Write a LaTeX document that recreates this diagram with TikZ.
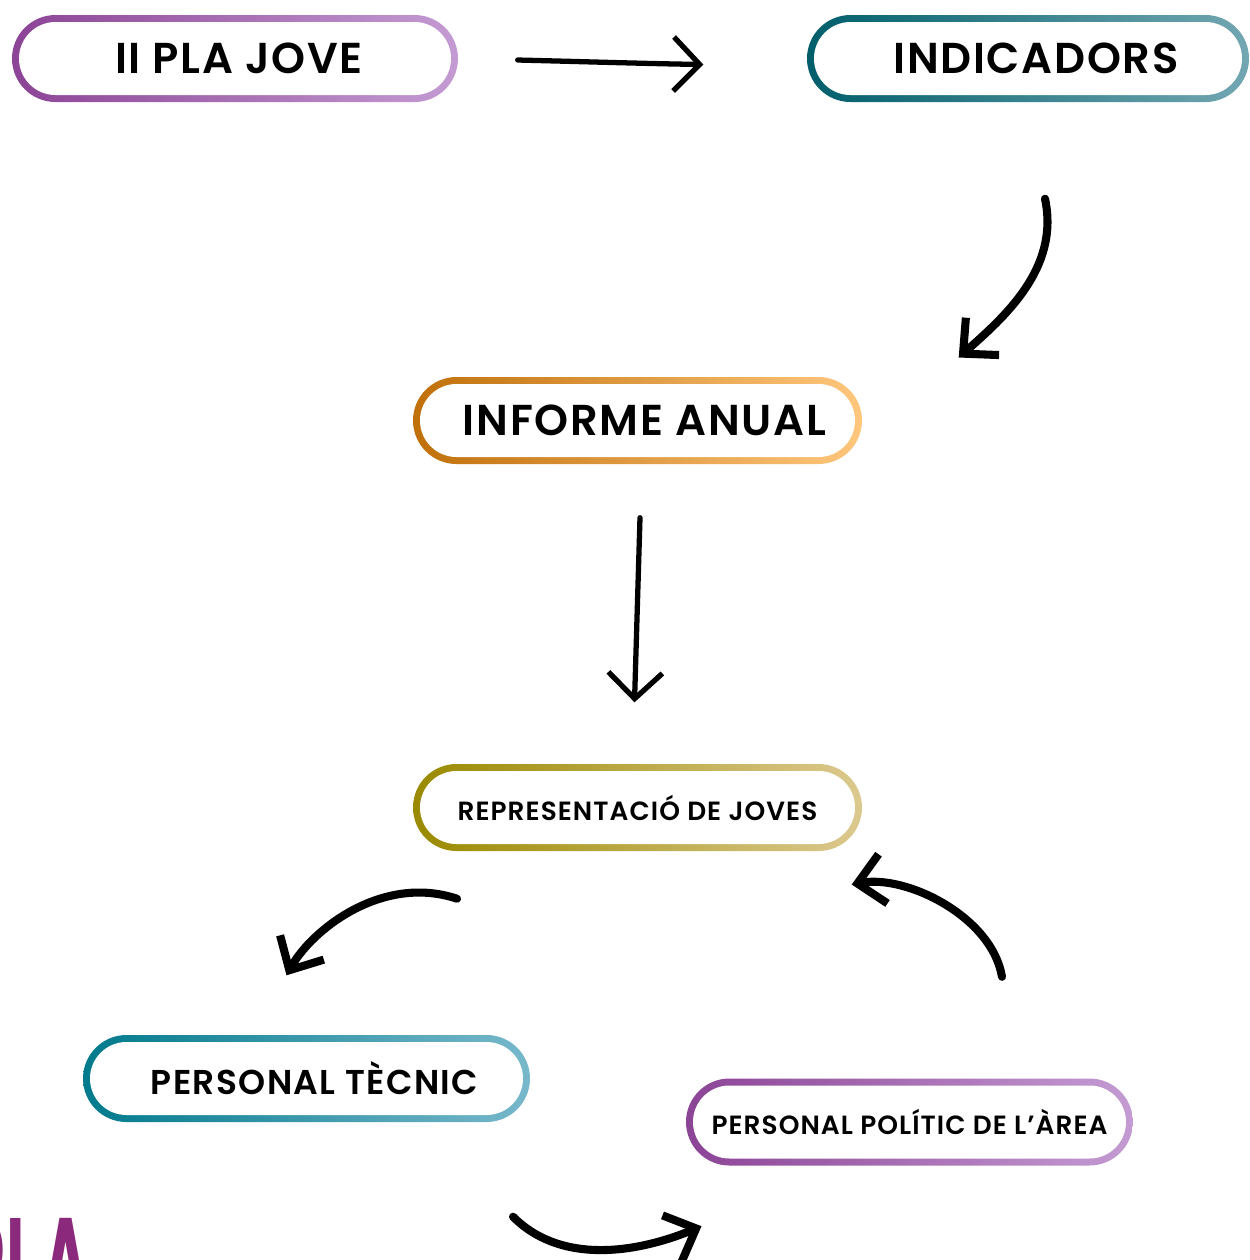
\documentclass[tikz,border=0pt]{standalone}
\usepackage{fontspec}
\setmainfont{Poppins}[BoldFont={Poppins SemiBold}]
\usetikzlibrary{arrows.meta,positioning,shapes.misc,calc}

\definecolor{plaL}{HTML}{8C4496}
\definecolor{plaM}{HTML}{B075BD}
\definecolor{plaR}{HTML}{C49BD3}
\definecolor{indL}{HTML}{005F6B}
\definecolor{indM}{HTML}{4A8A92}
\definecolor{indR}{HTML}{72A7B2}
\definecolor{infL}{HTML}{C0700A}
\definecolor{infM}{HTML}{F5A000}
\definecolor{infR}{HTML}{FFC77D}
\definecolor{repL}{HTML}{9A8A00}
\definecolor{repM}{HTML}{D6B500}
\definecolor{repR}{HTML}{DCC98F}
\definecolor{tecL}{HTML}{007A8C}
\definecolor{tecM}{HTML}{2A9AAF}
\definecolor{tecR}{HTML}{78B8CB}
\definecolor{plamark}{HTML}{8B2A7D}

\begin{document}
\begin{tikzpicture}[
  ring/.style={rounded rectangle, inner sep=0pt, minimum height=8.7mm},
  pill/.style={rounded rectangle, fill=white, inner sep=0pt, minimum height=7.3mm},
  big/.style={font=\bfseries\fontsize{12.3}{14}\selectfont\addfontfeatures{LetterSpace=4}},
  mid/.style={font=\bfseries\fontsize{9.8}{12}\selectfont\addfontfeatures{LetterSpace=4}},
  small/.style={font=\bfseries\fontsize{7.5}{9}\selectfont\addfontfeatures{LetterSpace=4}},
  hand/.style={line width=1.5pt, line cap=round, -{Straight Barb[length=2.6mm, width=5.4mm]}},
  thickhand/.style={line width=2.3pt, line cap=round, -{Straight Barb[length=2.6mm, width=5mm]}}
]
\useasboundingbox (0,0) rectangle (12.5,-12.6);
\clip (0,0) rectangle (12.5,-12.6);

% boxes
\node[ring, minimum width=44.6mm, left color=plaL, middle color=plaM, right color=plaR] (pj) at (2.35,-0.585) {};
\node[pill, big, minimum width=43.2mm] at (pj) {\hspace*{0.8mm}II PLA JOVE};

\node[ring, minimum width=44.2mm, left color=indL, middle color=indM, right color=indR] (ind) at (10.28,-0.585) {};
\node[pill, big, minimum width=42.8mm] at (ind) {\hspace*{1.6mm}INDICADORS};

\node[ring, minimum width=44.9mm, left color=infL, middle color=infM, right color=infR] (inf) at (6.375,-4.205) {};
\node[pill, big, minimum width=43.5mm] at (inf) {\hspace*{1.4mm}INFORME ANUAL};

\node[ring, minimum width=44.9mm, left color=repL, middle color=repM, right color=repR] (rep) at (6.375,-8.075) {};
\node[pill, small, minimum width=43.5mm] at (rep) {REPRESENTACIÓ DE JOVES};

\node[ring, minimum width=44.7mm, left color=tecL, middle color=tecM, right color=tecR] (tec) at (3.065,-10.785) {};
\node[pill, mid, minimum width=43.3mm] at (tec) {\hspace*{1.6mm}PERSONAL TÈCNIC};

\node[ring, minimum width=44.7mm, left color=plaL, middle color=plaM, right color=plaR] (pol) at (9.095,-11.22) {};
\node[pill, small, minimum width=43.3mm] at (pol) {PERSONAL POLÍTIC DE L’ÀREA};

% mark, cut at the page edge
\node[anchor=north east, inner sep=0pt, text=plamark, font=\bfseries\fontsize{42}{42}\selectfont] (mark) at (0.93,-12.18) {\scalebox{0.5}[1]{PLA}};

% arrows
\draw[hand] ($(pj.east)+(0.59,-0.015)$) .. controls +(0.8,-0.02) and +(-0.6,0.01) .. ($(ind.west)+(-1.03,-0.06)$);
\draw[thickhand] ($(ind.south)+(0.17,-0.96)$) .. controls +(0.15,-0.7) and +(0.45,0.4) .. ($(inf.east)+(0.96,0.63)$);
\draw[hand] ($(inf.south)+(0.025,-0.53)$) -- ($(rep.north)+(-0.03,0.61)$);
\draw[thickhand] ($(rep.south)+(-1.805,-0.47)$) .. controls +(-0.75,0.25) and +(0.25,0.45) .. ($(tec.north)+(-0.2,0.59)$);
\draw[thickhand] ($(pol.north)+(0.925,1.01)$) .. controls +(-0.1,0.6) and +(0.55,0.1) .. ($(rep.east)+(-0.11,-0.77)$);
\draw[thickhand] ($(tec.south)+(2.065,-0.94)$) .. controls +(0.5,-0.5) and +(-0.6,-0.25) .. ($(pol.south)+(-2.08,-0.6)$);
\end{tikzpicture}
\end{document}
